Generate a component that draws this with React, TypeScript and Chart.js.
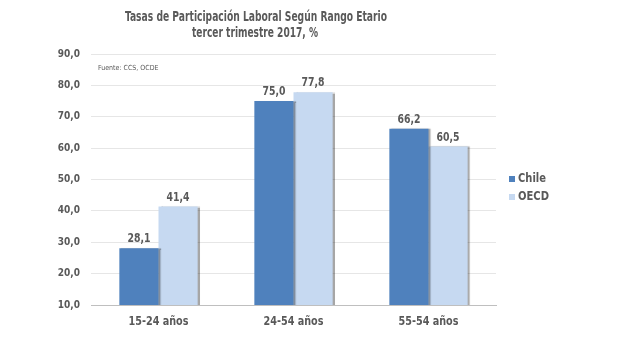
import React, { useEffect, useRef } from "react";
import { Chart, registerables } from "chart.js";

Chart.register(...registerables);

const categories = ["15-24 años", "24-54 años", "55-54 años"];
const chileValues = [28.1, 75.0, 66.2];
const oecdValues = [41.4, 77.8, 60.5];
const seriesNames = ["Chile", "OECD"];
const titleLines = ["Tasas de Participación Laboral Según Rango Etario", "tercer trimestre 2017, %"];
const sourceText = "Fuente: CCS, OCDE";

const FONT = "'Liberation Sans Narrow', 'DejaVu Sans Condensed', sans-serif";
const TEXT = "#595959";
const COLORS = ["#4f81bd", "#c6d9f1"];

const fmt = (v: number) => v.toFixed(1).replace(".", ",");

const overlayPlugin = {
  id: "overlay",
  beforeDatasetsDraw(chart: any) {
    const ctx = chart.ctx;
    ctx.save();
    ctx.shadowColor = "rgba(0,0,0,0.35)";
    ctx.shadowOffsetX = 2;
    ctx.shadowOffsetY = 0;
    ctx.shadowBlur = 1;
  },
  afterDatasetsDraw(chart: any) {
    const ctx = chart.ctx;
    ctx.restore();
    ctx.save();
    ctx.fillStyle = TEXT;
    ctx.font = `bold 12px ${FONT}`;
    ctx.textAlign = "center";
    ctx.textBaseline = "bottom";
    chart.data.datasets.forEach((ds: any, i: number) => {
      const meta = chart.getDatasetMeta(i);
      meta.data.forEach((bar: any, j: number) => {
        ctx.fillText(fmt(ds.data[j]), bar.x, bar.y - 3, 23);
      });
    });
    ctx.restore();
  },
  afterDraw(chart: any) {
    const ctx = chart.ctx;
    ctx.save();
    ctx.fillStyle = TEXT;
    ctx.textAlign = "center";
    ctx.textBaseline = "middle";
    ctx.font = `bold 14px ${FONT}`;
    ctx.fillText(titleLines[0], 256, 17, 262);
    ctx.fillText(titleLines[1], 255, 33, 126);
    // x category labels, positioned by the x scale
    const xs = chart.scales.x;
    ctx.font = `bold 13px ${FONT}`;
    categories.forEach((c, i) => {
      ctx.fillText(c, xs.getPixelForTick(i), 322, 60);
    });
    ctx.font = `7px ${FONT}`;
    ctx.textAlign = "left";
    ctx.fillText(sourceText, 98, 68);
    // legend
    ctx.font = `bold 12px ${FONT}`;
    seriesNames.forEach((name, i) => {
      const y = 179 + i * 18;
      ctx.fillStyle = COLORS[i];
      ctx.fillRect(509, y - 3, 6, 6);
      ctx.fillStyle = TEXT;
      ctx.fillText(name, 518, y, i === 0 ? 28 : 31);
    });
    ctx.restore();
  },
};

export default function App() {
  const ref = useRef<HTMLCanvasElement>(null);
  useEffect(() => {
    if (!ref.current) return;
    const chart = new Chart(ref.current, {
      type: "bar",
      data: {
        labels: categories,
        datasets: [
          { label: seriesNames[0], data: chileValues, backgroundColor: COLORS[0] },
          { label: seriesNames[1], data: oecdValues, backgroundColor: COLORS[1] },
        ],
      },
      options: {
        animation: false,
        responsive: false,
        layout: { padding: { top: 54, left: 0, right: 127, bottom: 0 } },
        datasets: { bar: { categoryPercentage: 0.58, barPercentage: 1 } } as any,
        plugins: { legend: { display: false }, tooltip: { enabled: false }, title: { display: false } },
        scales: {
          x: {
            grid: { display: false, drawTicks: false },
            border: { color: "#bfbfbf", width: 1 },
            ticks: { display: false },
            afterFit: (s: any) => { s.height = 49; },
          },
          y: {
            min: 10,
            max: 90,
            grid: { color: "#e6e6e6", drawTicks: false },
            border: { display: false },
            ticks: {
              stepSize: 10,
              color: TEXT,
              padding: 11,
              font: { family: FONT, size: 10, weight: "bold" },
              callback: (v: any) => fmt(Number(v)),
            },
            afterFit: (s: any) => { s.width = 91; },
          },
        },
      },
      plugins: [overlayPlugin],
    });
    return () => chart.destroy();
  }, []);
  return (
    <div style={{ position: "fixed", left: 0, top: 0, width: 623, height: 354, background: "#fff" }}>
      <canvas ref={ref} width={623} height={354} style={{ width: 623, height: 354 }} />
    </div>
  );
}
